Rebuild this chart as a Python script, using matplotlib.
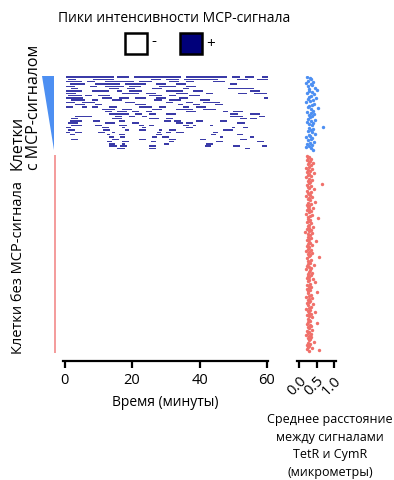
import matplotlib
matplotlib.use("Agg")
import matplotlib.pyplot as plt
from matplotlib.patches import Polygon, Rectangle

plt.rcParams['font.family'] = ['Open Sans', 'DejaVu Sans']

# MCP-signal peak intervals (minutes), one list per cell, top to bottom
peak_rows = [
    [(0.5, 14.5), (15.5, 19), (20.5, 34.5), (36, 48), (49.5, 52), (53.5, 56), (58.5, 60.5)],
    [(1, 3.5), (8.5, 14.5), (25.5, 28.5), (30, 34), (35.5, 45.5), (51, 54.5), (57, 60.5)],
    [(0.5, 5), (6.5, 9), (12, 20.5), (22, 26), (31, 34), (36, 38.5), (44, 47.5)],
    [(1.5, 6), (9, 16.5), (18, 24), (27, 30), (33, 36), (49, 51)],
    [(0.5, 3), (7.5, 9.5), (12, 17.5), (19, 22.5), (28, 33), (36, 39)],
    [(2, 4), (13, 16), (18.5, 21), (26, 29), (35, 37), (48.5, 56)],
    [(0.5, 5), (8, 13), (15.5, 17), (19, 23), (30, 35), (38, 41), (55, 58)],
    [(0.5, 3.5), (17, 22), (24, 27), (33, 36.5), (42, 44), (51.5, 54), (56, 60)],
    [(1, 5), (6, 8), (10, 13.5), (25, 29), (31, 33), (37, 40)],
    [(0.5, 5.5), (11, 14), (16, 19), (21, 24), (27, 30), (34, 36.5), (59, 61)],
    [(2, 6), (8, 10), (14, 17), (26.5, 29), (31, 34.5), (40, 43)],
    [(0.5, 3), (5, 9), (18, 21), (30, 32), (36, 38), (41, 46)],
    [(3, 6), (9, 11), (21, 24), (33.5, 35), (38, 40), (44.5, 47)],
    [(0.5, 2.5), (5, 6.5), (8, 10), (13, 15.5), (22, 26), (28, 30), (35, 37), (39, 42)],
    [(11, 15), (17, 20), (26, 29), (33, 38), (41, 45)],
    [(12, 14), (15.5, 18.5), (20, 22), (24, 26), (36, 39), (47, 48.5), (50, 53)],
    [(13, 19), (21, 23), (25, 27), (30, 33), (49, 51.5), (55, 58)],
    [(3, 8), (15, 17), (19, 21), (23, 24.5), (49, 53), (57.5, 59.5)],
    [(2, 4), (14, 17), (25, 28), (30, 32), (52, 54), (55, 57)],
    [(1.5, 5), (8.5, 10.5), (16, 18), (29.5, 31.5), (32.5, 34.5), (39, 41), (46, 48)],
    [(1, 4), (12, 15), (20, 22), (33, 35), (36, 38), (51, 53.5)],
    [(2, 5), (9, 11), (16, 18.5), (22, 23.5), (25, 26.5), (35, 37), (38, 39), (43, 44)],
    [(0.5, 2), (11, 13), (17, 18), (23, 24), (36, 38), (49.5, 50.5), (53, 54.5)],
    [(1, 3), (11.5, 13.5), (18, 19), (22, 24), (28, 29), (31, 33), (47, 50)],
    [(0.5, 1.5), (3, 5), (10, 12), (14, 15), (27.5, 28.5), (30, 31.5), (33, 35.5), (44, 45.5)],
    [(1.5, 3), (12.5, 13.5), (16, 18), (27, 29), (43.5, 45), (51, 53)],
    [(13, 14.5), (16.5, 18), (26, 27.5), (29, 31), (46, 47), (55, 56)],
    [(2, 4), (14, 16), (22, 24), (31, 33), (40, 42), (52, 54)],
    [(12.5, 14), (17, 19), (25.5, 27), (31, 32.5), (45, 47), (57, 59)],
    [(13, 15), (17, 18), (29.5, 31), (42, 44)],
    [(13, 15.5), (16.5, 18.5), (25, 27), (41.5, 43.5), (50, 52), (58.5, 60)],
    [(15.5, 18), (25, 27), (53.5, 55)],
]

# mean TetR-CymR distance (micrometers)
dist_mcp = [0.22, 0.31, 0.35, 0.27, 0.41, 0.19, 0.33, 0.38, 0.25, 0.46, 0.30, 0.52,
            0.28, 0.36, 0.23, 0.42, 0.34, 0.29, 0.48, 0.26, 0.39, 0.32, 0.21, 0.44,
            0.37, 0.30, 0.27, 0.55, 0.33, 0.40, 0.24, 0.35, 0.43, 0.29, 0.38, 0.31,
            0.26, 0.47, 0.34, 0.22, 0.39, 0.30, 0.36, 0.69, 0.28, 0.41, 0.33, 0.25,
            0.37, 0.45, 0.29, 0.32, 0.20, 0.38, 0.35, 0.27, 0.43, 0.31, 0.24, 0.36,
            0.30, 0.19, 0.33, 0.40]
dist_no_mcp = [
    0.24, 0.30, 0.27, 0.35, 0.22, 0.31, 0.28, 0.40, 0.25, 0.33, 0.29, 0.21,
    0.36, 0.26, 0.32, 0.23, 0.44, 0.30, 0.27, 0.34, 0.19, 0.29, 0.38, 0.25,
    0.31, 0.28, 0.66, 0.24, 0.33, 0.27, 0.30, 0.42, 0.22, 0.35, 0.26, 0.29,
    0.32, 0.20, 0.37, 0.28, 0.25, 0.31, 0.46, 0.27, 0.34, 0.23, 0.30, 0.26,
    0.39, 0.29, 0.24, 0.33, 0.28, 0.21, 0.36, 0.31, 0.25, 0.55, 0.27, 0.32,
    0.30, 0.23, 0.35, 0.28, 0.26, 0.41, 0.29, 0.24, 0.33, 0.30, 0.18, 0.37,
    0.27, 0.31, 0.25, 0.34, 0.29, 0.22, 0.48, 0.28, 0.32, 0.26, 0.36, 0.24,
    0.30, 0.27, 0.33, 0.21, 0.29, 0.38, 0.25, 0.31, 0.28, 0.58, 0.23, 0.35,
    0.26, 0.30, 0.32, 0.27, 0.43, 0.24, 0.29, 0.34, 0.20, 0.31, 0.28, 0.36,
    0.25, 0.33, 0.27, 0.30, 0.22, 0.39, 0.29, 0.26, 0.47, 0.32, 0.24, 0.28,
    0.35, 0.30, 0.23, 0.31, 0.27, 0.52, 0.26, 0.33, 0.29, 0.21, 0.37, 0.28,
    0.25, 0.32, 0.30, 0.24, 0.40, 0.27, 0.34, 0.29, 0.19, 0.31, 0.26, 0.45,
    0.28, 0.33, 0.23, 0.30, 0.36, 0.25, 0.29, 0.32, 0.27, 0.50, 0.22, 0.31,
    0.34, 0.26, 0.29, 0.38, 0.24, 0.30, 0.27, 0.33, 0.21, 0.28, 0.35, 0.25,
    0.31, 0.29, 0.42, 0.26, 0.32, 0.23, 0.30, 0.27, 0.36, 0.24, 0.57, 0.28,
]

time_ticks = [0, 20, 40, 60]
dist_ticks = [0.0, 0.5, 1.0]

navy = '#3b3ba8'
blue = '#4d8ff2'
red = '#f0706a'

fig = plt.figure(figsize=(3.94, 4.8), dpi=100)
ax = fig.add_axes([63 / 394, 119 / 480, 205 / 394, 285 / 480])
ax2 = fig.add_axes([297 / 394, 119 / 480, 39 / 394, 285 / 480])

n_top = len(peak_rows)
red_top, red_bottom = 33.8, 120.0
ymax = 123.4

for i, segs in enumerate(peak_rows):
    ax.broken_barh([(a, b - a) for a, b in segs], (i - 0.3, 0.6),
                   facecolors=navy, edgecolor='none')

# cell-group markers
ax.add_patch(Polygon([(-6.6, -0.5), (-3.3, -0.5), (-3.3, n_top - 0.3)],
                     closed=True, color=blue, lw=0, clip_on=False))
ax.plot([-2.8, -2.8], [red_top, red_bottom], color='#f28a8a', lw=1.2,
        clip_on=False, solid_capstyle='butt')

ax.set_xlim(-0.5, 60.3)
ax.set_ylim(ymax, -0.5)
ax.set_xticks(time_ticks)
ax.set_xlabel('Время (минуты)', fontsize=10, labelpad=5)

y_top = [j * n_top / len(dist_mcp) for j in range(len(dist_mcp))]
y_red = [red_top + 0.3 + j * (red_bottom - red_top - 0.6) / len(dist_no_mcp)
         for j in range(len(dist_no_mcp))]
ax2.scatter(dist_mcp, y_top, s=6, color=blue, lw=0)
ax2.scatter(dist_no_mcp, y_red, s=6, color=red, lw=0)
ax2.set_xlim(-0.057, 1.057)
ax2.set_ylim(ymax, -0.5)
ax2.set_xticks(dist_ticks)
ax2.set_xticklabels(['0.0', '0.5', '1.0'], rotation=45, ha='right',
                    rotation_mode='anchor')

for a in (ax, ax2):
    for s in ('left', 'top', 'right'):
        a.spines[s].set_visible(False)
    a.spines['bottom'].set_linewidth(1.6)
    a.set_yticks([])
    a.tick_params(axis='x', length=5, width=1.6, labelsize=10.5, pad=4)

fig.text(174 / 394, 1 - 18 / 480, 'Пики интенсивности MCP-сигнала',
         ha='center', va='center', fontsize=10)
fig.patches.append(Rectangle((125 / 394, 1 - 54 / 480), 22 / 394, 21 / 480,
                             facecolor='white', edgecolor='black', lw=1.8,
                             transform=fig.transFigure, figure=fig))
fig.patches.append(Rectangle((180 / 394, 1 - 54 / 480), 22 / 394, 21 / 480,
                             facecolor='#00007a', edgecolor='black', lw=1.8,
                             transform=fig.transFigure, figure=fig))
fig.text(151 / 394, 1 - 42 / 480, '-', ha='left', va='center', fontsize=11)
fig.text(206 / 394, 1 - 44 / 480, '+', ha='left', va='center', fontsize=11)

fig.text(26 / 394, 1 - 170 / 480, 'Клетки\nс MCP-сигналом', rotation=90,
         ha='center', va='bottom', multialignment='left', fontsize=11.5,
         linespacing=1.05)
fig.text(19 / 394, 1 - 267 / 480, 'Клетки без MCP-сигнала', rotation=90,
         ha='center', va='center', fontsize=10.5)

fig.text(330 / 394, 1 - 446 / 480,
         'Среднее расстояние\nмежду сигналами\nTetR и CymR\n(микрометры)',
         ha='center', va='center', fontsize=9, linespacing=1.45)

fig.savefig('out.png', dpi=100)
